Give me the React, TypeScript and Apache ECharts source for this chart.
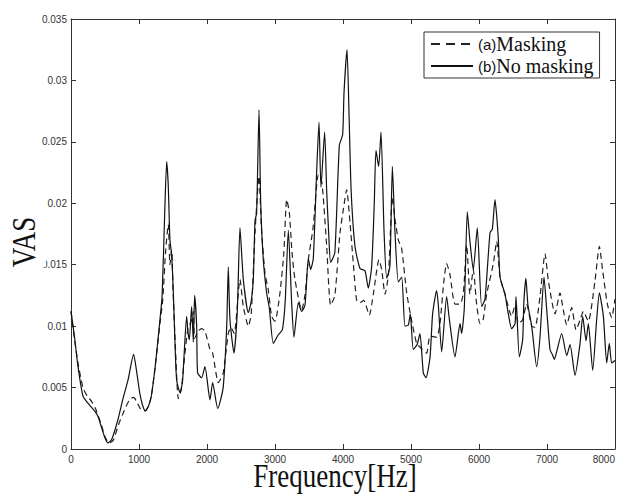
import React, { useEffect, useRef } from "react";
import * as echarts from "echarts";

const maskingFreq = [0, 50, 103, 176, 240, 300, 360, 400, 446, 500, 560, 620, 700, 780, 860, 921, 970, 1030, 1093, 1140, 1181, 1240, 1304, 1350, 1390, 1431, 1455, 1480, 1500, 1530, 1578, 1620, 1676, 1720, 1774, 1800, 1818, 1870, 1921, 1970, 2044, 2083, 2166, 2200, 2240, 2313, 2350, 2400, 2485, 2534, 2608, 2650, 2706, 2765, 2800, 2853, 2900, 2951, 3000, 3073, 3130, 3172, 3210, 3250, 3294, 3392, 3440, 3490, 3560, 3637, 3690, 3760, 3818, 3880, 3956, 4005, 4054, 4103, 4152, 4201, 4250, 4304, 4387, 4446, 4529, 4569, 4618, 4670, 4726, 4765, 4814, 4863, 4937, 4990, 5083, 5150, 5230, 5280, 5377, 5426, 5480, 5524, 5573, 5647, 5721, 5770, 5819, 5867, 5916, 5965, 6015, 6060, 6113, 6211, 6260, 6309, 6382, 6480, 6530, 6578, 6640, 6700, 6775, 6824, 6897, 6971, 7020, 7118, 7191, 7240, 7290, 7363, 7427, 7486, 7535, 7608, 7706, 7770, 7819, 7888, 7951, 8000];
const maskingVas = [0.0112, 0.009, 0.007, 0.005, 0.0043, 0.0039, 0.0033, 0.0027, 0.002, 0.001, 0.0005, 0.0007, 0.002, 0.0031, 0.004, 0.0042, 0.0038, 0.0032, 0.0031, 0.0035, 0.0043, 0.0068, 0.01, 0.0122, 0.016, 0.0183, 0.015, 0.0162, 0.013, 0.009, 0.0041, 0.0048, 0.0078, 0.0098, 0.0105, 0.0112, 0.009, 0.0096, 0.0098, 0.0096, 0.0081, 0.0078, 0.0054, 0.0057, 0.0062, 0.0094, 0.0099, 0.0094, 0.0138, 0.0116, 0.01, 0.011, 0.0176, 0.0222, 0.018, 0.0143, 0.013, 0.0108, 0.0104, 0.0127, 0.016, 0.0203, 0.0193, 0.016, 0.0138, 0.0113, 0.0125, 0.0154, 0.018, 0.0223, 0.0217, 0.0165, 0.0117, 0.0125, 0.0176, 0.0195, 0.0211, 0.0184, 0.0151, 0.0121, 0.0119, 0.0121, 0.0109, 0.0126, 0.0154, 0.0146, 0.0126, 0.0143, 0.0205, 0.0187, 0.017, 0.0163, 0.0127, 0.011, 0.0086, 0.0082, 0.0078, 0.0092, 0.0091, 0.0102, 0.0135, 0.0151, 0.0142, 0.0118, 0.0118, 0.0127, 0.0166, 0.0126, 0.0146, 0.0118, 0.0102, 0.0105, 0.0126, 0.0151, 0.0169, 0.014, 0.0126, 0.0108, 0.0117, 0.0102, 0.0105, 0.0118, 0.01, 0.0099, 0.0124, 0.0159, 0.0137, 0.011, 0.0127, 0.0113, 0.0101, 0.0115, 0.0097, 0.0105, 0.0112, 0.0104, 0.0137, 0.0165, 0.0145, 0.0118, 0.0107, 0.0122];

const noMaskingFreq = [0, 50, 103, 176, 240, 300, 360, 400, 446, 500, 545, 600, 691, 760, 838, 921, 960, 1010, 1050, 1093, 1140, 1181, 1240, 1304, 1340, 1378, 1407, 1430, 1455, 1480, 1505, 1530, 1554, 1603, 1640, 1701, 1720, 1740, 1774, 1799, 1818, 1848, 1862, 1921, 1970, 2044, 2083, 2157, 2200, 2240, 2290, 2313, 2338, 2397, 2446, 2485, 2534, 2608, 2650, 2681, 2706, 2730, 2765, 2790, 2828, 2877, 2916, 2975, 3049, 3108, 3150, 3196, 3245, 3279, 3343, 3392, 3441, 3490, 3524, 3563, 3612, 3647, 3676, 3730, 3760, 3790, 3818, 3880, 3946, 3995, 4015, 4059, 4090, 4120, 4176, 4250, 4323, 4372, 4422, 4460, 4485, 4524, 4559, 4603, 4643, 4690, 4726, 4765, 4814, 4863, 4912, 4961, 4990, 5034, 5090, 5132, 5181, 5221, 5280, 5318, 5377, 5402, 5451, 5524, 5563, 5647, 5721, 5745, 5784, 5828, 5867, 5916, 5975, 6039, 6088, 6162, 6196, 6235, 6260, 6284, 6309, 6382, 6431, 6480, 6530, 6544, 6593, 6642, 6660, 6690, 6720, 6775, 6848, 6897, 6956, 6995, 7044, 7078, 7108, 7142, 7216, 7290, 7339, 7412, 7486, 7525, 7574, 7608, 7672, 7730, 7770, 7829, 7878, 7917, 7951, 8000];
const noMaskingVas = [0.0112, 0.0092, 0.0067, 0.0043, 0.0038, 0.0034, 0.003, 0.0026, 0.0018, 0.0009, 0.0005, 0.0008, 0.0024, 0.004, 0.0056, 0.0077, 0.0065, 0.0046, 0.0036, 0.0031, 0.0035, 0.0043, 0.0068, 0.0103, 0.0125, 0.0192, 0.0234, 0.0215, 0.017, 0.0158, 0.0127, 0.0085, 0.0056, 0.0046, 0.0055, 0.0108, 0.0095, 0.0089, 0.0116, 0.0087, 0.0125, 0.01, 0.0062, 0.0058, 0.0067, 0.004, 0.0054, 0.0033, 0.004, 0.0051, 0.01, 0.0148, 0.0105, 0.0078, 0.0113, 0.018, 0.0138, 0.0111, 0.012, 0.0138, 0.0186, 0.0192, 0.0276, 0.02, 0.0154, 0.0127, 0.0115, 0.0086, 0.0093, 0.0097, 0.012, 0.0178, 0.0119, 0.0091, 0.0119, 0.0112, 0.0117, 0.0155, 0.0146, 0.0155, 0.0225, 0.0266, 0.0213, 0.0258, 0.021, 0.0175, 0.0152, 0.016, 0.0247, 0.0256, 0.029, 0.0325, 0.027, 0.021, 0.0165, 0.0147, 0.0145, 0.0131, 0.0149, 0.02, 0.0243, 0.023, 0.0258, 0.0178, 0.0139, 0.0149, 0.023, 0.0176, 0.0136, 0.014, 0.01, 0.0101, 0.011, 0.0081, 0.0085, 0.0094, 0.0062, 0.0058, 0.0075, 0.011, 0.0129, 0.0117, 0.0079, 0.0124, 0.0106, 0.0075, 0.0102, 0.0094, 0.0115, 0.0193, 0.0169, 0.0146, 0.018, 0.0116, 0.0122, 0.0176, 0.0179, 0.0203, 0.019, 0.0171, 0.014, 0.0126, 0.011, 0.0098, 0.0102, 0.0124, 0.0075, 0.0089, 0.012, 0.0139, 0.0117, 0.01, 0.0067, 0.0091, 0.014, 0.0114, 0.0081, 0.0077, 0.0073, 0.0079, 0.0094, 0.0076, 0.0085, 0.006, 0.0086, 0.0108, 0.0088, 0.0102, 0.0064, 0.0105, 0.0127, 0.0108, 0.007, 0.0086, 0.007, 0.0072];

const seriesNames = ["(a)Masking", "(b)No masking"];
const xLabel = "Frequency[Hz]";
const yLabel = "VAS";

const axisColor = "#333";

function axisCommon(showLabel: boolean, isX: boolean) {
  return {
    type: "value",
    min: 0,
    max: isX ? 8000 : 0.035,
    interval: isX ? 1000 : 0.005,
    axisLine: { show: true, onZero: false, lineStyle: { color: axisColor, width: 1 } },
    axisTick: { show: true, inside: true, length: 5, lineStyle: { color: axisColor, width: 1 } },
    splitLine: { show: false },
    axisLabel: {
      show: showLabel,
      color: "#333",
      fontSize: 10,
      fontFamily: "Liberation Sans",
      margin: isX ? 5 : 4,
      alignMaxLabel: isX ? "right" : undefined,
      formatter: (v: number) => (isX ? String(v) : String(+v.toFixed(3))),
    },
  };
}

export default function App() {
  const ref = useRef<HTMLDivElement>(null);
  useEffect(() => {
    if (!ref.current) return;
    const chart = echarts.init(ref.current, undefined, { renderer: "svg" });
    chart.setOption({
      animation: false,
      backgroundColor: "#fff",
      grid: { left: 71, right: 3, top: 19, bottom: 50, containLabel: false, outerBoundsMode: "none" },
      xAxis: [
        { ...axisCommon(true, true), position: "bottom" },
        { ...axisCommon(false, true), position: "top" },
      ],
      yAxis: [
        { ...axisCommon(true, false), position: "left" },
        { ...axisCommon(false, false), position: "right" },
      ],
      legend: {
        orient: "vertical",
        left: 424,
        top: 32,
        padding: [2, 6, 2, 6],
        borderColor: "#333",
        borderWidth: 1,
        backgroundColor: "#fff",
        itemWidth: 42,
        itemHeight: 10,
        itemGap: 2,
        itemStyle: { color: "rgba(0,0,0,0)", borderWidth: 0, opacity: 0 },
        data: [
          { name: seriesNames[0], lineStyle: { type: [9, 6] } },
          { name: seriesNames[1] },
        ],
        formatter: (name: string) =>
          name === seriesNames[0] ? "{s|(a)}Masking" : "{s|(b)}No masking",
        textStyle: {
          fontFamily: "Liberation Serif",
          fontSize: 20,
          color: "#111",
          lineHeight: 20,
          rich: { s: { fontFamily: "Liberation Sans", fontSize: 15, color: "#111" } },
        },
      },
      graphic: [
        {
          type: "text",
          x: 24,
          y: 242,
          rotation: Math.PI / 2,
          scaleY: 1.25,
          z: 100,
          style: {
            text: yLabel,
            font: "27px 'Liberation Serif'",
            fill: "#111",
            align: "center",
            verticalAlign: "middle",
            backgroundColor: "#fff",
            padding: [4, 0],
          },
        },
        {
          type: "text",
          x: 335,
          y: 476,
          scaleY: 1.25,
          z: 100,
          style: {
            text: xLabel,
            font: "27px 'Liberation Serif'",
            fill: "#111",
            align: "center",
            verticalAlign: "middle",
          },
        },
      ],
      series: [
        {
          type: "line",
          name: seriesNames[0],
          data: maskingFreq.map((f, i) => [f, maskingVas[i]]),
          symbol: "none",
          showSymbol: false,
          smooth: 0.2,
          lineStyle: { color: "#222", width: 1.2, type: [6, 4] },
          itemStyle: { color: "#222" },
          xAxisIndex: 0,
          yAxisIndex: 0,
        },
        {
          type: "line",
          name: seriesNames[1],
          data: noMaskingFreq.map((f, i) => [f, noMaskingVas[i]]),
          symbol: "none",
          showSymbol: false,
          smooth: 0.2,
          lineStyle: { color: "#111", width: 1.2, type: "solid" },
          itemStyle: { color: "#111" },
          xAxisIndex: 0,
          yAxisIndex: 0,
        },
      ],
    });
    return () => chart.dispose();
  }, []);
  return (
    <div
      ref={ref}
      style={{ position: "fixed", left: 0, top: 0, width: 618, height: 499, background: "#fff" }}
    />
  );
}
